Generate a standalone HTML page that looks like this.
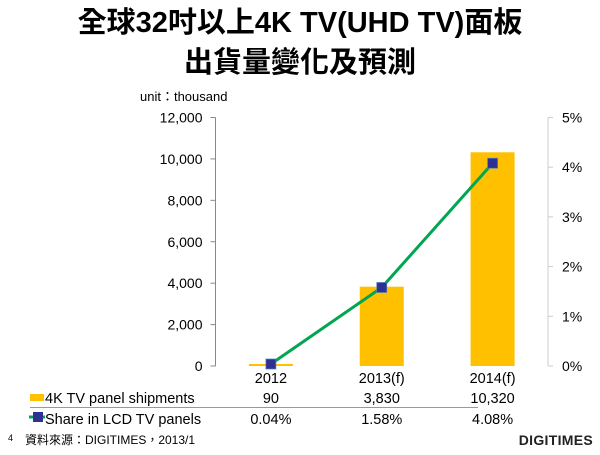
<!DOCTYPE html>
<html><head><meta charset="utf-8">
<style>
body{margin:0;width:600px;height:450px;background:#fff;overflow:hidden;font-family:"Liberation Sans","Noto Sans CJK TC",sans-serif;}
svg text{font-family:"Liberation Sans","Noto Sans CJK TC",sans-serif;}
</style></head><body>
<svg width="600" height="450">
<text x="300" y="32" text-anchor="middle" font-size="29" font-weight="bold" fill="#000">全球32吋以上4K TV(UHD TV)面板</text>
<text x="300" y="72" text-anchor="middle" font-size="29" font-weight="bold" fill="#000">出貨量變化及預測</text>
<text x="140" y="101" font-size="13" fill="#000">unit：thousand</text>
<g id="plot"></g>
<text x="8" y="441" font-size="9" fill="#000">4</text>
<text x="25" y="444" font-size="12" fill="#000">資料來源：DIGITIMES，2013/1</text>
<text x="593" y="445" text-anchor="end" font-size="14" font-weight="bold" fill="#222" letter-spacing="0.3">DIGITIMES</text>
</svg>
<script>
const categories=["2012","2013(f)","2014(f)"];
const shipments=[90,3830,10320];
const shipmentLabels=["90","3,830","10,320"];
const shares=[0.04,1.58,4.08];
const shareLabels=["0.04%","1.58%","4.08%"];
const leftTicks=[0,2000,4000,6000,8000,10000,12000];
const leftTickLabels=["0","2,000","4,000","6,000","8,000","10,000","12,000"];
const rightTicks=[0,1,2,3,4,5];
const rightTickLabels=["0%","1%","2%","3%","4%","5%"];

const NS="http://www.w3.org/2000/svg";
const g=document.getElementById('plot');
const X0=215.5,X1=548,Y0=366,Y1=117.5;
const bw=(X1-X0)/categories.length;
const xc=i=>X0+bw*(i+0.5);
const yL=v=>Y0-(v/12000)*(Y0-Y1);
const yR=v=>Y0-(v/5)*(Y0-Y1);
function mk(tag,a){const e=document.createElementNS(NS,tag);for(const k in a)e.setAttribute(k,a[k]);g.appendChild(e);return e;}

let e=mk('line',{x1:X0,y1:Y1,x2:X0,y2:Y0,stroke:'#888','stroke-width':1});


e=mk('line',{x1:X1,y1:Y1,x2:X1,y2:Y0,stroke:'#ccc','stroke-width':1});


leftTicks.forEach((v,i)=>{
  mk('line',{x1:X0-5,x2:X0,y1:yL(v),y2:yL(v),stroke:'#888'});
  const t=mk('text',{x:X0-13,y:yL(v)+5,'text-anchor':'end','font-size':14});
  t.textContent=leftTickLabels[i];
  
  
});
rightTicks.forEach((v,i)=>{
  mk('line',{x1:X1,x2:X1+5,y1:yR(v),y2:yR(v),stroke:'#ccc'});
  const t=mk('text',{x:X1+14,y:yR(v)+5,'font-size':14});
  t.textContent=rightTickLabels[i];
  
  
});
categories.forEach((c,i)=>{
  const h=Math.max(Y0-yL(shipments[i]),2);
  const b=mk('rect',{x:xc(i)-22,y:Y0-h,width:44,height:h,fill:'#FFC000'});
  
  
});
const pts=shares.map((v,i)=>xc(i)+','+yR(v)).join(' ');
e=mk('polyline',{points:pts,fill:'none',stroke:'#00A651','stroke-width':3});


shares.forEach((v,i)=>{
  const m=mk('rect',{x:xc(i)-5,y:yR(v)-5,width:10,height:10,fill:'#2E3192',stroke:'#4F81BD','stroke-width':0.7});
  
  
});
categories.forEach((c,i)=>{
  let t=mk('text',{x:xc(i),y:383,'text-anchor':'middle','font-size':14.5});
  t.textContent=c;
  
  
  t=mk('text',{x:xc(i),y:403,'text-anchor':'middle','font-size':14.5});
  t.textContent=shipmentLabels[i];
  
  
  t=mk('text',{x:xc(i),y:424,'text-anchor':'middle','font-size':14.5});
  t.textContent=shareLabels[i];
  
  
});
e=mk('line',{x1:30,x2:478,y1:407.5,y2:407.5,stroke:'#999','stroke-width':1});


e=mk('rect',{x:30,y:394,width:14,height:7,fill:'#FFC000'});


e=mk('text',{x:45,y:403,'font-size':14.5});
e.textContent='4K TV panel shipments';


mk('line',{x1:29,x2:45,y1:417,y2:417,stroke:'#00A651','stroke-width':3});
e=mk('rect',{x:33,y:412,width:10,height:10,fill:'#2E3192'});


e=mk('text',{x:45,y:424,'font-size':14.5});
e.textContent='Share in LCD TV panels';


</script>
</body></html>
